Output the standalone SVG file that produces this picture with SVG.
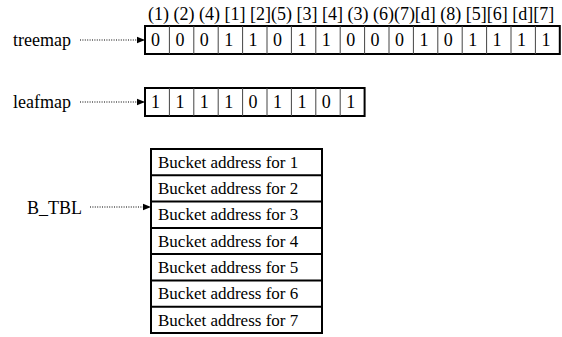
<svg xmlns="http://www.w3.org/2000/svg" width="562" height="337" viewBox="0 0 562 337">
  <style>
    .outer { fill: none; stroke: #000; stroke-width: 2; }
    .div { stroke: #444; stroke-width: 1; }
    .rowline { stroke: #000; stroke-width: 2; }
    .ptr { fill: none; stroke: #000; stroke-width: 1.2; stroke-dasharray: 1 1.4; }
  </style>
  <defs>
    <marker id="head" markerWidth="8" markerHeight="8" refX="8" refY="4" orient="auto" markerUnits="userSpaceOnUse">
      <path d="M0,0.8 L8,4 L0,7.2 Z" fill="#000"/>
    </marker>
  </defs>
  <rect width="562" height="337" fill="#fff"/>

  <!-- index labels above the treemap cells -->
  <text font-family="Liberation Serif" font-size="18" x="148" y="20" xml:space="preserve">(1) (2) (4) [1] [2](5) [3] [4] (3) (6)(7)[d] (8) [5][6] [d][7]</text>

  <!-- treemap -->
  <g id="treemap">
    <text font-family="Liberation Serif" font-size="18" x="13" y="46">treemap</text>
    <rect class="outer" x="145" y="26" width="414.8" height="28"/>
    <g class="div">
      <line x1="169.4" y1="26" x2="169.4" y2="54"/>
      <line x1="193.8" y1="26" x2="193.8" y2="54"/>
      <line x1="218.2" y1="26" x2="218.2" y2="54"/>
      <line x1="242.6" y1="26" x2="242.6" y2="54"/>
      <line x1="267" y1="26" x2="267" y2="54"/>
      <line x1="291.4" y1="26" x2="291.4" y2="54"/>
      <line x1="315.8" y1="26" x2="315.8" y2="54"/>
      <line x1="340.2" y1="26" x2="340.2" y2="54"/>
      <line x1="364.6" y1="26" x2="364.6" y2="54"/>
      <line x1="389" y1="26" x2="389" y2="54"/>
      <line x1="413.4" y1="26" x2="413.4" y2="54"/>
      <line x1="437.8" y1="26" x2="437.8" y2="54"/>
      <line x1="462.2" y1="26" x2="462.2" y2="54"/>
      <line x1="486.6" y1="26" x2="486.6" y2="54"/>
      <line x1="511" y1="26" x2="511" y2="54"/>
      <line x1="535.4" y1="26" x2="535.4" y2="54"/>
    </g>
    <text font-family="Liberation Serif" font-size="18" x="151" y="46">0</text>
    <text font-family="Liberation Serif" font-size="18" x="175.4" y="46">0</text>
    <text font-family="Liberation Serif" font-size="18" x="199.8" y="46">0</text>
    <text font-family="Liberation Serif" font-size="18" x="224.2" y="46">1</text>
    <text font-family="Liberation Serif" font-size="18" x="248.6" y="46">1</text>
    <text font-family="Liberation Serif" font-size="18" x="273" y="46">0</text>
    <text font-family="Liberation Serif" font-size="18" x="297.4" y="46">1</text>
    <text font-family="Liberation Serif" font-size="18" x="321.8" y="46">1</text>
    <text font-family="Liberation Serif" font-size="18" x="346.2" y="46">0</text>
    <text font-family="Liberation Serif" font-size="18" x="370.6" y="46">0</text>
    <text font-family="Liberation Serif" font-size="18" x="395" y="46">0</text>
    <text font-family="Liberation Serif" font-size="18" x="419.4" y="46">1</text>
    <text font-family="Liberation Serif" font-size="18" x="443.8" y="46">0</text>
    <text font-family="Liberation Serif" font-size="18" x="468.2" y="46">1</text>
    <text font-family="Liberation Serif" font-size="18" x="492.6" y="46">1</text>
    <text font-family="Liberation Serif" font-size="18" x="517" y="46">1</text>
    <text font-family="Liberation Serif" font-size="18" x="541.4" y="46">1</text>
  </g>

  <!-- leafmap -->
  <g id="leafmap">
    <text font-family="Liberation Serif" font-size="18" x="13" y="108">leafmap</text>
    <rect class="outer" x="145" y="88" width="219.6" height="28"/>
    <g class="div">
      <line x1="169.4" y1="88" x2="169.4" y2="116"/>
      <line x1="193.8" y1="88" x2="193.8" y2="116"/>
      <line x1="218.2" y1="88" x2="218.2" y2="116"/>
      <line x1="242.6" y1="88" x2="242.6" y2="116"/>
      <line x1="267" y1="88" x2="267" y2="116"/>
      <line x1="291.4" y1="88" x2="291.4" y2="116"/>
      <line x1="315.8" y1="88" x2="315.8" y2="116"/>
      <line x1="340.2" y1="88" x2="340.2" y2="116"/>
    </g>
    <text font-family="Liberation Serif" font-size="18" x="151" y="108">1</text>
    <text font-family="Liberation Serif" font-size="18" x="175.4" y="108">1</text>
    <text font-family="Liberation Serif" font-size="18" x="199.8" y="108">1</text>
    <text font-family="Liberation Serif" font-size="18" x="224.2" y="108">1</text>
    <text font-family="Liberation Serif" font-size="18" x="248.6" y="108">0</text>
    <text font-family="Liberation Serif" font-size="18" x="273" y="108">1</text>
    <text font-family="Liberation Serif" font-size="18" x="297.4" y="108">1</text>
    <text font-family="Liberation Serif" font-size="18" x="321.8" y="108">0</text>
    <text font-family="Liberation Serif" font-size="18" x="346.2" y="108">1</text>
  </g>

  <!-- bucket table -->
  <g id="b_tbl">
    <text font-family="Liberation Serif" font-size="18" x="27" y="214">B_TBL</text>
    <rect class="outer" x="151" y="149" width="171" height="184"/>
    <g class="rowline">
      <line x1="151" y1="175.3" x2="322" y2="175.3"/>
      <line x1="151" y1="201.6" x2="322" y2="201.6"/>
      <line x1="151" y1="227.9" x2="322" y2="227.9"/>
      <line x1="151" y1="254.1" x2="322" y2="254.1"/>
      <line x1="151" y1="280.4" x2="322" y2="280.4"/>
      <line x1="151" y1="306.7" x2="322" y2="306.7"/>
    </g>
    <text font-family="Liberation Serif" font-size="17" x="158" y="168">Bucket address for 1</text>
    <text font-family="Liberation Serif" font-size="17" x="158" y="194">Bucket address for 2</text>
    <text font-family="Liberation Serif" font-size="17" x="158" y="220">Bucket address for 3</text>
    <text font-family="Liberation Serif" font-size="17" x="158" y="247">Bucket address for 4</text>
    <text font-family="Liberation Serif" font-size="17" x="158" y="273">Bucket address for 5</text>
    <text font-family="Liberation Serif" font-size="17" x="158" y="299">Bucket address for 6</text>
    <text font-family="Liberation Serif" font-size="17" x="158" y="326">Bucket address for 7</text>
  </g>

  <!-- dotted pointers -->
  <g id="connectors">
    <line class="ptr" x1="80" y1="40" x2="145" y2="40" marker-end="url(#head)"/>
    <line class="ptr" x1="80" y1="102" x2="145" y2="102" marker-end="url(#head)"/>
    <line class="ptr" x1="90" y1="207" x2="151" y2="207" marker-end="url(#head)"/>
  </g>
</svg>
